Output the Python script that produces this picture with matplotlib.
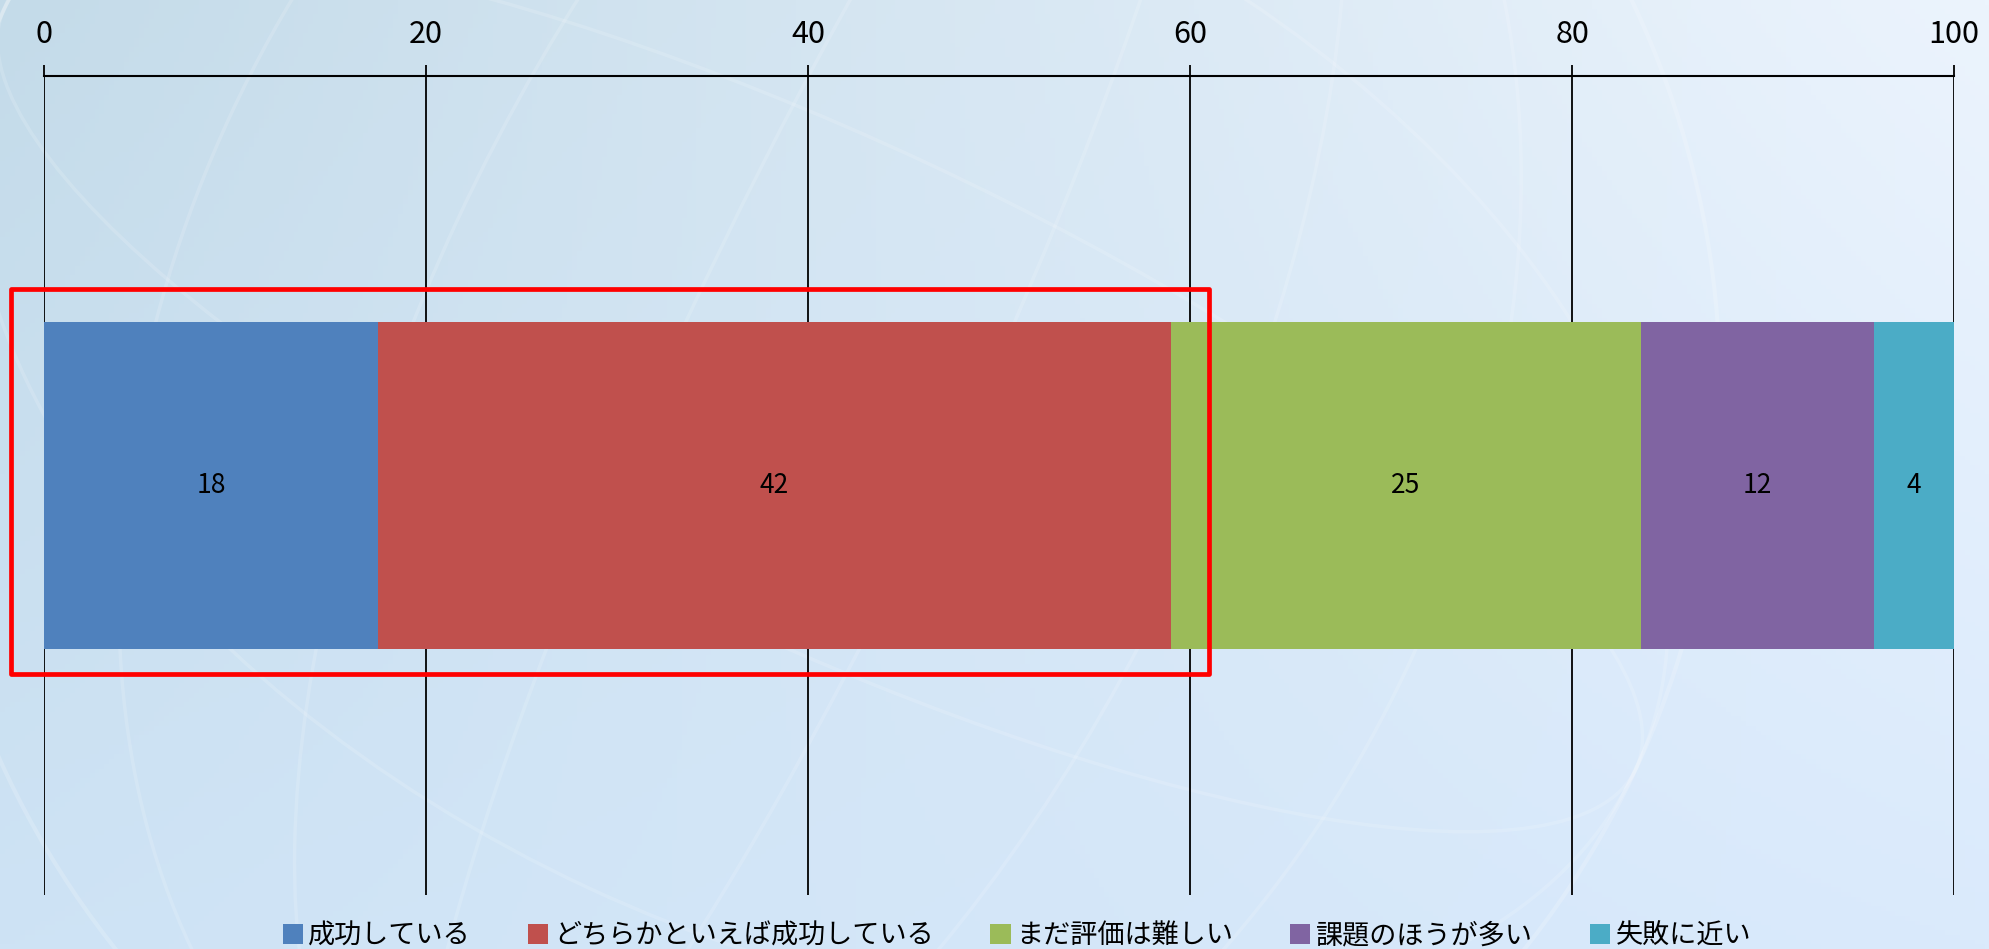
import numpy as np
import matplotlib
matplotlib.use("Agg")
import matplotlib.pyplot as plt
from matplotlib.patches import Rectangle, Ellipse, Circle

plt.rcParams['font.family'] = ['Noto Sans CJK JP', 'DejaVu Sans']

# 回答の内訳（%）
labels = ['成功している', 'どちらかといえば成功している', 'まだ評価は難しい', '課題のほうが多い', '失敗に近い']
values = [17.5, 41.5, 24.6, 12.2, 4.2]
colors = ['#4F81BD', '#C0504D', '#9BBB59', '#8064A2', '#4BACC6']
xticks = [0, 20, 40, 60, 80, 100]

fig = plt.figure(figsize=(19.9, 9.49), dpi=100)

# 背景のグラデーション
h, w = 200, 400
yy, xx = np.mgrid[0:1:h * 1j, 0:1:w * 1j]
tl = np.array([196, 219, 233]) / 255
tr = np.array([236, 244, 253]) / 255
bl = np.array([206, 227, 245]) / 255
br = np.array([218, 234, 252]) / 255
bg = (tl * ((1 - xx) * (1 - yy))[..., None] + tr * (xx * (1 - yy))[..., None]
      + bl * ((1 - xx) * yy)[..., None] + br * (xx * yy)[..., None])
bgax = fig.add_axes([0, 0, 1, 1], zorder=-1)
bgax.imshow(bg, aspect='auto', extent=[0, 1990, 0, 949])
bgax.set_xlim(0, 1990)
bgax.set_ylim(0, 949)
bgax.axis('off')

# 地球儀風のうすい線
cx, cy, r = 820, 560, 900
bgax.add_patch(Circle((cx, cy), r, fill=False, edgecolor='white', lw=3, alpha=0.18))
for wdt in [300, 800, 1300]:
    bgax.add_patch(Ellipse((cx, cy), wdt, 2 * r, angle=-25, fill=False,
                           edgecolor='white', lw=2.5, alpha=0.15))
for hgt in [500, 1100]:
    bgax.add_patch(Ellipse((cx, cy), 2 * r, hgt, angle=-25, fill=False,
                           edgecolor='white', lw=2.5, alpha=0.15))

ax = fig.add_axes([0.022, 0.057, 0.96, 0.863])
ax.patch.set_alpha(0)

left = 0
for lab, v, c in zip(labels, values, colors):
    bars = ax.barh(0, v, left=left, height=0.4, color=c, label=lab, zorder=3)
    ax.bar_label(bars, labels=['{:.0f}'.format(v)], label_type='center', fontsize=19, color='black')
    left += v

ax.set_xlim(0, 100)
ax.set_ylim(-0.5, 0.5)
ax.xaxis.tick_top()
ax.set_xticks(xticks)
ax.tick_params(axis='x', direction='out', length=8, width=1.3, labelsize=22, pad=11)
ax.set_yticks([])
ax.grid(axis='x', color='black', linewidth=1.3, zorder=1)
for s in ['left', 'right', 'bottom']:
    ax.spines[s].set_visible(False)
ax.spines['top'].set_linewidth(1.5)

# 強調枠
ax.add_patch(Rectangle((-1.7, -0.23), 62.7, 0.47, fill=False, edgecolor='#FF0000',
                       linewidth=3.4, joinstyle='round', clip_on=False, zorder=5))

fig.legend(loc='lower center', bbox_to_anchor=(0.511, -0.026), ncol=5, frameon=False,
           fontsize=19.5, handlelength=0.75, handleheight=0.75, handletextpad=0.2,
           columnspacing=2.1)

fig.savefig('out.png', dpi=100)
